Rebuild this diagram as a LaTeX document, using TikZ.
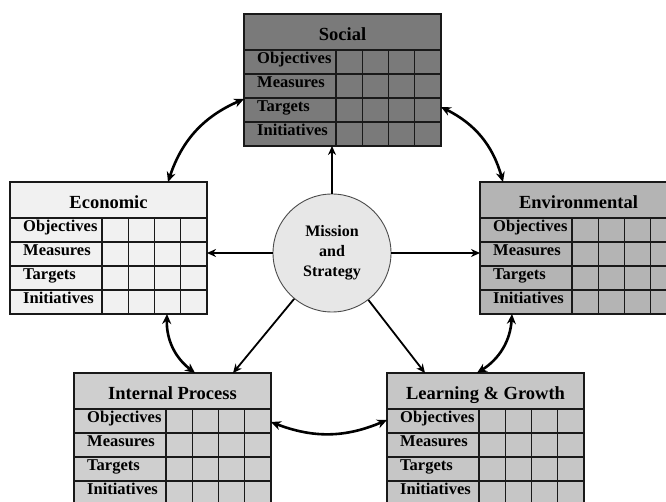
\documentclass[tikz,border=0pt]{standalone}
\usepackage{fontspec}
\setmainfont{Liberation Serif}
\usepackage{xcolor}
\usepackage{tikz}
\usetikzlibrary{arrows.meta,positioning,calc}
\definecolor{csocial}{HTML}{7A7A7A}
\definecolor{cenv}{HTML}{B4B4B4}
\definecolor{cintern}{HTML}{CFCFCF}
\definecolor{clearn}{HTML}{C6C6C6}
\definecolor{cecon}{HTML}{F1F1F1}
\definecolor{cmission}{HTML}{E7E7E7}
\newcommand\lblfont{\fontsize{16.5}{19}\selectfont\bfseries}
\newcommand\ttlfont{\fontsize{18.5}{22}\selectfont\bfseries}

% one perspective table: name, position, title, fill
\newcommand\perspective[4]{%
  \node[pbox, fill=#4] (#1) at #2 {};
  \node[ptitle] at ([yshift=-26.5pt]#1.north) {#3};
  \draw[grid] ([yshift=-36pt]#1.north west) -- ([yshift=-36pt]#1.north east);
  \foreach \r [count=\i] in {Objectives,Measures,Targets,Initiatives} {
    \node[plabel] at ([xshift=13pt, yshift={-36pt-(\i-1)*24pt-13.5pt}]#1.north west) {\r};
    \ifnum\i<4
      \draw[grid] ([yshift={-36pt-\i*24pt}]#1.north west) -- ([yshift={-36pt-\i*24pt}]#1.north east);
    \fi
  }
  \foreach \c in {0,1,2,3}
    \draw[grid] ([xshift={92pt+\c*26.25pt}, yshift=-36pt]#1.north west) -- ([xshift={92pt+\c*26.25pt}]#1.south west);
}

\begin{document}
\begin{tikzpicture}[
  x=1pt, y=-1pt,
  pbox/.style={rectangle, draw=black!90, line width=1.2pt, anchor=north west,
               minimum width=197pt, minimum height=132pt, inner sep=0pt, outer sep=0pt},
  grid/.style={draw=black!90, line width=1.2pt},
  ptitle/.style={anchor=base, inner sep=0pt, font=\ttlfont},
  plabel/.style={anchor=base west, inner sep=0pt, font=\lblfont},
  mission/.style={circle, draw=black!70, line width=0.9pt, fill=cmission,
                  minimum size=118pt, inner sep=0pt, align=center,
                  font=\fontsize{16}{20}\selectfont\bfseries},
  arr/.style={-{Stealth[length=9pt, width=8pt]}, line width=1.8pt},
  dbl/.style={{Stealth[length=10pt, width=9pt]}-{Stealth[length=10pt, width=9pt]}, line width=2.6pt}
]
\useasboundingbox (0,0) rectangle (666,502);
\clip (0,0) rectangle (666,502);

% Perspectives
\perspective{soc}{(244,14)}{Social}{csocial}
\perspective{eco}{(10,182)}{Economic}{cecon}
\perspective{env}{(480,182)}{Environmental}{cenv}
\perspective{ipr}{(74,373)}{Internal Process}{cintern}
\perspective{lgr}{(387,373)}{Learning \& Growth}{clearn}

% Centre
\node[mission] (ms) at (332,253) {Mission\\and\\Strategy};

% Arrows from the centre
\draw[arr] (ms.north) -- (ms.north |- soc.south);
\draw[arr] (ms.west) -- (ms.west -| eco.east);
\draw[arr] (ms.east) -- (ms.east -| env.west);
\draw[arr] (ms) -- ([xshift=159pt]ipr.north west);
\draw[arr] (ms) -- ([xshift=38pt]lgr.north west);

% Links between perspectives
\draw[dbl] ([xshift=158pt]eco.north west) to[bend left=24] ([yshift=-85pt]soc.north west);
\draw[dbl] ([yshift=-93pt]soc.north east) to[bend left=24] ([xshift=23pt]env.north west);
\draw[dbl] ([xshift=157pt]eco.south west) to[bend right=27] ([xshift=121pt]ipr.north west);
\draw[dbl] ([yshift=-49pt]ipr.north east) to[bend right=22] ([yshift=-47pt]lgr.north west);
\draw[dbl] ([xshift=32pt]env.south west) to[bend left=27] ([xshift=90pt]lgr.north west);

\end{tikzpicture}
\end{document}
